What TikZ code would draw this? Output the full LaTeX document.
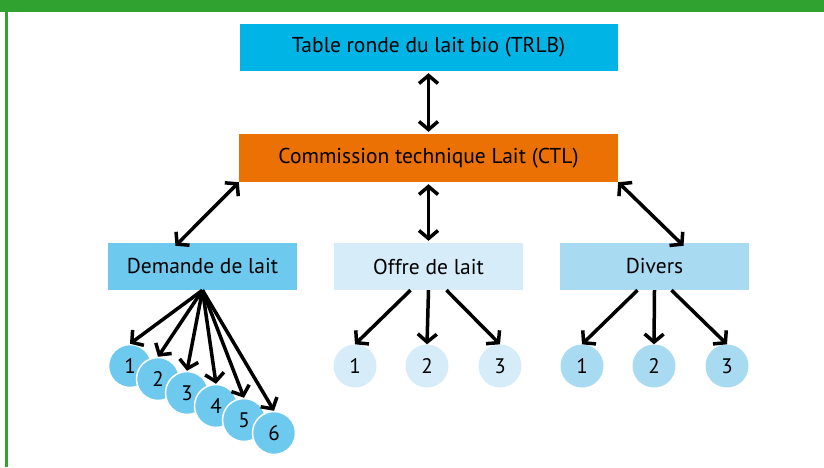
\documentclass[tikz,border=0pt]{standalone}
\usepackage{fontspec}
\setmainfont{PT Sans}
\usetikzlibrary{arrows.meta}
\definecolor{FrameGreen}{HTML}{30A22F}
\definecolor{TopCyan}{HTML}{00B5E6}
\definecolor{MidOrange}{HTML}{EB7105}
\definecolor{DemBlue}{HTML}{6EC9EE}
\definecolor{OffBlue}{HTML}{D6ECF9}
\definecolor{DivBlue}{HTML}{A8DAF2}
\tikzset{
    box/.style={inner sep=0pt, minimum width=189pt, minimum height=47pt,
        font=\fontsize{21.5}{24}\selectfont},
    num/.style={circle, inner sep=0pt, minimum size=43pt,
        font=\fontsize{21}{24}\selectfont},
    link/.style={line width=3.5pt, -{Straight Barb[length=8pt,width=19pt]}},
    dlink/.style={line width=3.5pt,
        {Straight Barb[length=8pt,width=19pt]}-{Straight Barb[length=8pt,width=19pt]}},
}
\begin{document}
\begin{tikzpicture}[x=1pt,y=-1pt]
    \useasboundingbox (0,0) rectangle (824,467);
    % frame
    \fill[FrameGreen] (0,0) rectangle (824,12);
    \fill[FrameGreen] (5,0) rectangle (7.5,467);
    % top levels
    \node[box, fill=TopCyan, minimum width=378pt] (trlb) at (428.5,47.5) {Table ronde du lait bio (TRLB)};
    \node[box, fill=MidOrange, minimum width=379pt, minimum height=48pt] (ctl) at (428.5,158) {Commission technique Lait (CTL)};
    \node[box, fill=DemBlue] (dem) at (202.5,266.5) {Demande de lait};
    \node[box, fill=OffBlue] (off) at (428.5,266.5) {Offre de lait};
    \node[box, fill=DivBlue] (div) at (654.5,266.5) {Divers};
    \draw[dlink, shorten <=2pt, shorten >=2pt] (trlb.south) -- (ctl.north);
    \draw[dlink] (ctl.south west) -- ([xshift=-27pt,yshift=-3pt]dem.north);
    \draw[dlink, shorten <=2pt, shorten >=2pt] (ctl.south) -- (off.north);
    \draw[dlink] (ctl.south east) -- ([xshift=29pt,yshift=-3pt]div.north);
    % circles
    \foreach \i/\x/\y in {1/130/366,2/158/379,3/187/393,4/216/406,5/244/420,6/274/433}
        \node[num, fill=DemBlue, draw=white, line width=1.5pt] (d\i) at (\x,\y) {\i};
    \foreach \i/\x in {1/355,2/427,3/500}
        \node[num, fill=OffBlue] (o\i) at (\x,366) {\i};
    \foreach \i/\x in {1/582,2/654,3/727}
        \node[num, fill=DivBlue] (v\i) at (\x,366) {\i};
    % arrows
    \foreach \i in {1,...,6}
        \draw[link] (dem.south) -- (d\i.north);
    \draw[link] ([xshift=-18pt]off.south) -- (o1.north);
    \draw[link] (off.south) -- (o2.north);
    \draw[link] ([xshift=18pt]off.south) -- (o3.north);
    \draw[link] ([xshift=-17pt]div.south) -- (v1.north);
    \draw[link] (div.south) -- (v2.north);
    \draw[link] ([xshift=17pt]div.south) -- (v3.north);
\end{tikzpicture}
\end{document}
